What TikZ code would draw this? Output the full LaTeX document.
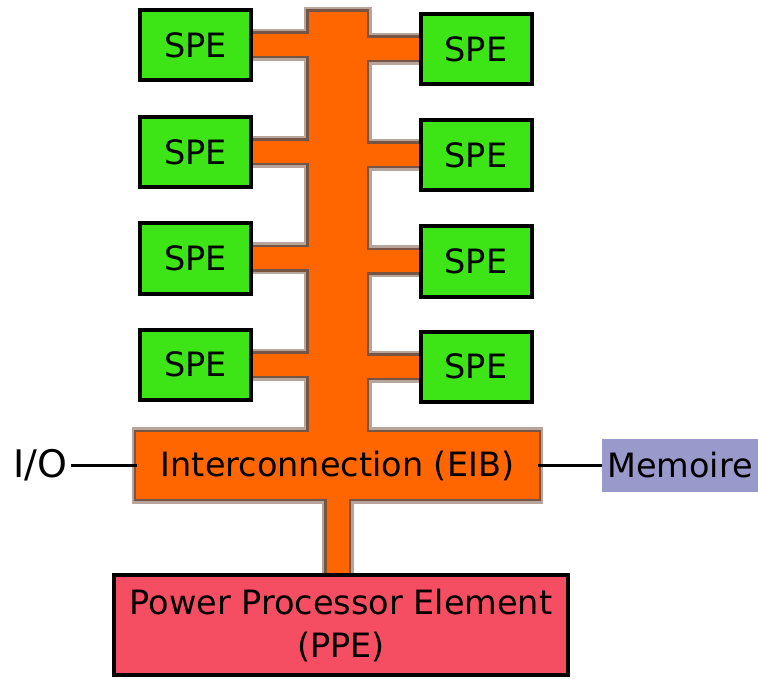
\documentclass[tikz,border=0pt]{standalone}
\usepackage{fontspec}
\setmainfont{DejaVu Sans}
\usetikzlibrary{calc}
\definecolor{spegreen}{RGB}{62,229,22}
\definecolor{busorange}{RGB}{255,102,0}
\definecolor{busedge}{RGB}{95,55,35}
\definecolor{ppered}{RGB}{245,77,97}
\definecolor{memblue}{RGB}{153,153,204}
\pgfdeclarelayer{shade}
\pgfdeclarelayer{bus}
\pgfsetlayers{shade,bus,main}
\tikzset {
    box/.style = {draw, line width = 4pt, inner sep = 0pt, align = center},
    spe/.style = {box, fill = spegreen, minimum width = 111pt, minimum height = 70pt},
    ppe/.style = {box, fill = ppered, minimum width = 454pt, minimum height = 100pt},
    eib/.style = {inner sep = 0pt, minimum width = 401pt, minimum height = 66pt},
    mem/.style = {fill = memblue, inner sep = 0pt, minimum width = 156pt, minimum height = 53pt},
    empty/.style = {inner sep = 4pt, font = \fontsize{38}{46}\selectfont},
    wire/.style = {line width = 2.5pt},
    %
    shade light/.style = {draw = busedge!45, fill = busedge!45},
    shade dark/.style = {draw = busedge!85, fill = busedge!85},
    bus fill/.style = {draw = busorange, fill = busorange}
}
% #1 = extra width of the edge, #2 = look
\newcommand{\busparts}[2]{
    \draw [#2, line width = 58pt + #1pt] ($(bustop) + (0, -#1 / 2)$) -- (eib.north);
    \draw [#2, line width = 22pt + #1pt] (eib.south) -- (eib.south |- ppe.north);
    \foreach \i in {1, ..., 4} {
        \draw [#2, line width = 22pt + #1pt] (spel\i.east) -- (spel\i.east -| bustop);
        \draw [#2, line width = 22pt + #1pt] (sper\i.west) -- (sper\i.west -| bustop);
    }
    \draw [#2, line width = #1pt] (eib.south west) rectangle (eib.north east);
}

\begin{document}
\begin{tikzpicture}[x = 1pt, y = -1pt, font = \fontsize{33.5}{43}\selectfont]
    \useasboundingbox (0, 0) rectangle (758, 679);
    \coordinate (bustop) at (337.5, 12);
    \node (spel1) [spe] at (195.5, 45) {SPE};
    \node (spel2) [spe] at (195.5, 152) {SPE};
    \node (spel3) [spe] at (195.5, 258.5) {SPE};
    \node (spel4) [spe] at (195.5, 364.5) {SPE};
    \node (sper1) [spe] at (476, 49) {SPE};
    \node (sper2) [spe] at (476, 155) {SPE};
    \node (sper3) [spe] at (476, 261.5) {SPE};
    \node (sper4) [spe] at (476, 366.5) {SPE};
    \node (eib) [eib] at (337.5, 465.5) {Interconnection (EIB)};
    \node (ppe) [ppe] at (341, 625) {Power Processor Element\\(PPE)};
    \node (io) [empty] at (40, 465.5) {I/O};
    \node (mem) [mem] at (680, 465.5) {Memoire};
    \draw [wire] (io) -- (eib);
    \draw [wire] (eib) -- (mem);
    \begin{pgfonlayer}{shade}
        \busparts{10}{shade light}
        \busparts{5}{shade dark}
    \end{pgfonlayer}
    \begin{pgfonlayer}{bus}
        \busparts{0}{bus fill}
    \end{pgfonlayer}
\end{tikzpicture}
\end{document}
